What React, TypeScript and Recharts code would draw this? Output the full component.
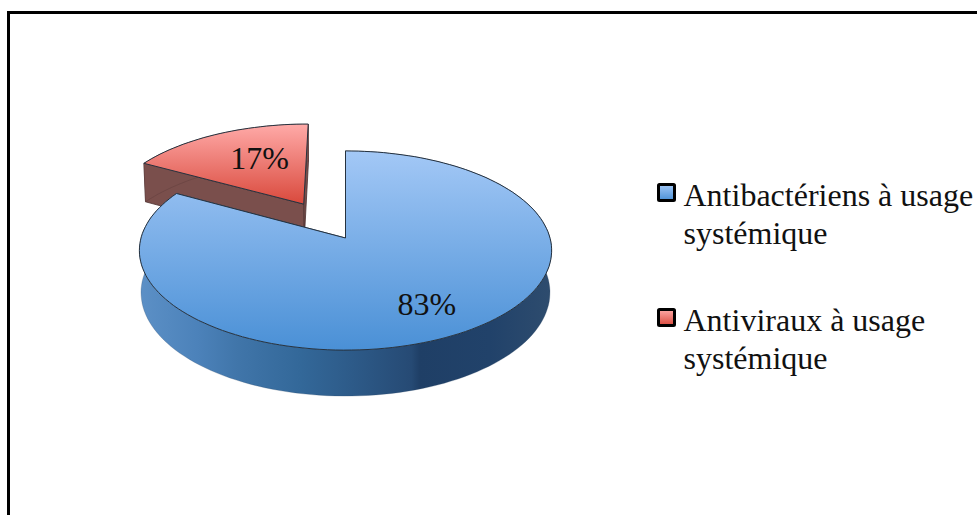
import { PieChart, Pie, Cell, Legend } from 'recharts';

const categories = ['Antiviraux à usage systémique', 'Antibactériens à usage systémique'];
const shares = [17, 83];
const legendOrder = ['Antibactériens à usage systémique', 'Antiviraux à usage systémique'];
const pieData = categories.map((name, i) => ({ name, value: shares[i] }));

const TOP_FILLS = ['url(#redTop)', 'url(#blueTop)'];
const WALL_FILLS = ['#7a4f4c', 'url(#blueWall)'];
const SWATCHES = ['url(#blueSwatch)', 'url(#redSwatch)'];

/* tilted-disc projection, the look of the old Excel 3D pie */
const RY = 98;
const PERSPECTIVE = 0.1256;
const EXPLODE = 0.42;
const WALL_X = 0.992;
const WALL_Y = 1.04;
const WALL_DROP = 41.5;
const RAD = Math.PI / 180;

type Pt = [number, number];

function project(ux: number, uy: number, rx: number): Pt {
  const d = 1 - PERSPECTIVE * uy;
  return [(rx * ux) / d, (RY * uy) / d];
}

function sectorOutline(start: number, end: number, rx: number, off: Pt) {
  const steps = Math.max(2, Math.round(Math.abs(end - start) / 2));
  const arc: Pt[] = [];
  for (let i = 0; i <= steps; i++) {
    const a = (start + ((end - start) * i) / steps) * RAD;
    arc.push(project(off[0] + Math.cos(a), off[1] - Math.sin(a), rx));
  }
  return { apex: project(off[0], off[1], rx), arc };
}

const toPath = (pts: Pt[], cx: number, cy: number) =>
  'M' + pts.map((p) => `${(cx + p[0]).toFixed(1)},${(cy + p[1]).toFixed(1)}`).join('L') + 'Z';

const lower = (p: Pt): Pt => [p[0] * WALL_X, p[1] * WALL_Y + WALL_DROP];

function explodeOffset(name: string, midAngle: number): Pt {
  if (name !== categories[0]) return [0, 0];
  return [EXPLODE * Math.cos(midAngle * RAD), -EXPLODE * Math.sin(midAngle * RAD)];
}

function Slice3D(props: any) {
  const { cx, cy, outerRadius, startAngle, endAngle, name, index } = props;
  const mid = (startAngle + endAngle) / 2;
  const { apex, arc } = sectorOutline(startAngle, endAngle, outerRadius, explodeOffset(name, mid));
  const rim = [...arc, ...arc.map(lower).reverse()];
  const cutA = [apex, arc[arc.length - 1], lower(arc[arc.length - 1]), lower(apex)];
  const cutB = [apex, arc[0], lower(arc[0]), lower(apex)];
  const wall = WALL_FILLS[index];
  const edge = index === 0 ? '#4a2f2e' : '#2a4560';
  return (
    <g>
      <path d={toPath(cutA, cx, cy)} fill={wall} stroke={edge} strokeWidth={0.8} />
      <path d={toPath(cutB, cx, cy)} fill={wall} stroke={edge} strokeWidth={0.8} />
      <path d={toPath(rim, cx, cy)} fill={wall} stroke={edge} strokeWidth={0.4} strokeOpacity={0.6} />
      <path d={toPath([apex, ...arc], cx, cy)} fill={TOP_FILLS[index]} stroke="#26323f" strokeWidth={1} />
    </g>
  );
}

function SliceLabel(props: any) {
  const { cx, cy, midAngle, name, value, outerRadius } = props;
  const isRed = name === categories[0];
  const off = explodeOffset(name, midAngle);
  const r = isRed ? 0.64 : 0.72;
  const p = project(
    off[0] + r * Math.cos(midAngle * RAD),
    off[1] - r * Math.sin(midAngle * RAD),
    outerRadius,
  );
  return (
    <text
      x={cx + p[0] + (isRed ? 13 : 0)}
      y={cy + p[1]}
      textAnchor="middle"
      dominantBaseline="central"
      fontFamily='"Liberation Serif"'
      fontSize={32}
      fill="#111"
    >
      {value}%
    </text>
  );
}

function LegendBox() {
  return (
    <div style={{ fontFamily: '"Liberation Serif"', fontSize: 32, lineHeight: '37.5px', color: '#111' }}>
      {legendOrder.map((name, i) => (
        <div key={name} style={{ position: 'relative', paddingLeft: 33.5, marginBottom: i === 0 ? 50 : 0 }}>
          <svg width={19} height={19} style={{ position: 'absolute', left: 7, top: 6 }}>
            <rect x={1.5} y={1.5} width={16} height={16} rx={1} fill={SWATCHES[i]} stroke="#000" strokeWidth={3} />
          </svg>
          {name}
        </div>
      ))}
    </div>
  );
}

export default function App() {
  return (
    <div style={{ position: 'absolute', left: 0, top: 0, width: 977, height: 515, overflow: 'hidden', background: '#fff' }}>
      <div style={{ position: 'absolute', left: 7, top: 11, width: 1000, height: 600, border: '3px solid #000', boxSizing: 'border-box' }} />
      <PieChart width={977} height={515} margin={{ top: 0, right: 0, bottom: 0, left: 0 }} style={{ position: 'absolute', left: 0, top: 0 }}>
        <defs>
          <linearGradient id="blueTop" x1="0" y1="0" x2="0" y2="1">
            <stop offset="0" stopColor="#a3c8f6" />
            <stop offset="1" stopColor="#4a90d6" />
          </linearGradient>
          <linearGradient id="redTop" x1="0" y1="0" x2="0" y2="1">
            <stop offset="0" stopColor="#ffaaa8" />
            <stop offset="1" stopColor="#d9493c" />
          </linearGradient>
          <linearGradient id="blueWall" x1="0" y1="0" x2="1" y2="0">
            <stop offset="0" stopColor="#5c90c6" />
            <stop offset="0.14" stopColor="#4c82ba" />
            <stop offset="0.24" stopColor="#4075a9" />
            <stop offset="0.39" stopColor="#336899" />
            <stop offset="0.52" stopColor="#2d5a88" />
            <stop offset="0.66" stopColor="#264a74" />
            <stop offset="0.68" stopColor="#1f3f66" />
            <stop offset="0.85" stopColor="#21426a" />
            <stop offset="1" stopColor="#2e4c6e" />
          </linearGradient>
          <linearGradient id="blueSwatch" x1="0" y1="0" x2="0" y2="1">
            <stop offset="0" stopColor="#a3c8f6" />
            <stop offset="1" stopColor="#4a90d6" />
          </linearGradient>
          <linearGradient id="redSwatch" x1="0" y1="0" x2="0" y2="1">
            <stop offset="0" stopColor="#ffaaa8" />
            <stop offset="1" stopColor="#d9493c" />
          </linearGradient>
        </defs>
        <Pie
          data={pieData}
          dataKey="value"
          nameKey="name"
          cx={345.5}
          cy={238}
          outerRadius={204.5}
          startAngle={151.2}
          endAngle={-208.8}
          stroke="none"
          shape={Slice3D}
          label={SliceLabel}
          labelLine={false}
          isAnimationActive={false}
        >
          {pieData.map((d) => (
            <Cell key={d.name} fill={d.name === categories[0] ? '#d9493c' : '#4a90d6'} />
          ))}
        </Pie>
        <Legend
          layout="vertical"
          verticalAlign="top"
          align="right"
          content={<LegendBox />}
          wrapperStyle={{ left: 650, right: 'auto', top: 177, width: 327 }}
        />
      </PieChart>
    </div>
  );
}
